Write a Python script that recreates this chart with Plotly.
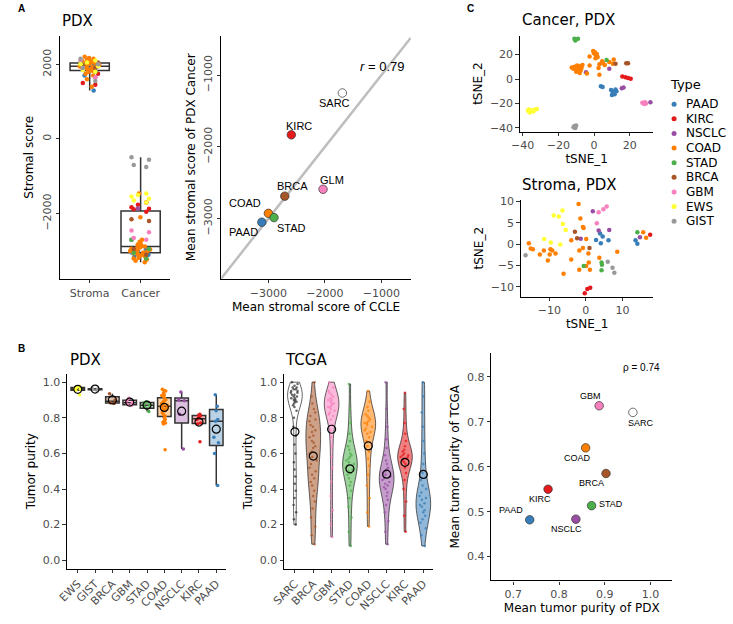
import numpy as np
import plotly.graph_objects as go

W, H = 733, 624

# ---------------- shared categories / palette ----------------
types = ["PAAD", "KIRC", "NSCLC", "COAD", "STAD", "BRCA", "GBM", "EWS", "GIST"]
type_colors = ["#377EB8", "#E41A1C", "#984EA3", "#FF7F00", "#4DAF4A",
               "#A65628", "#F781BF", "#FFFF33", "#999999"]
COL = dict(zip(types, type_colors))
COL["SARC"] = "#FFFFFF"
COL["GLM"] = "#F781BF"

# ---------------- Panel A left: stromal score (PDX) ----------------
stroma_groups = ["Stroma", "Cancer"]
stroma_score_stroma = {
    "GIST": [1550, 2150, 2000, 1900],
    "EWS": [2100, 2000, 1950, 1850, 1800, 2050],
    "KIRC": [1450, 1500, 1950, 2000, 1750],
    "BRCA": [1950, 2050, 1900],
    "GBM": [2100, 1650, 2000, 1900],
    "COAD": [1400, 1600, 1750, 1800, 1850, 1880, 1900, 1920, 1940, 1950, 1960, 1980,
             2000, 2020, 2050, 2080, 2100, 2150, 2200, 1870, 1990, 2060, 2120, 1700,
             1830, 2010, 1930, 2170, 2040],
    "STAD": [1950, 2000, 1800, 2050],
    "PAAD": [1300, 1700, 1800, 1850, 1900, 2000, 2050],
    "NSCLC": [1650, 2100, 2000, 1900, 1950],
}
stroma_score_cancer = {
    "GIST": [-490, -560, -700, -750],
    "EWS": [-1460, -1500, -1540, -1600, -1650, -1700],
    "KIRC": [-1700, -1760, -1830, -1880, -1950, -1870],
    "BRCA": [-2150, -2200, -2950, -3100],
    "GBM": [-2450, -2500, -2650, -2700],
    "COAD": [-1460, -2100, -2700, -2750, -2800, -2830, -2860, -2880, -2900, -2920,
             -2940, -2960, -2980, -3000, -3020, -3040, -3060, -3080, -3100, -3120,
             -3150, -3180, -3200, -3230, -3260, -3300, -2850, -2950, -3010],
    "STAD": [-2700, -2950, -3050, -3200],
    "PAAD": [-2850, -2950, -3000, -3050, -3100, -3150, -3200],
    "NSCLC": [-1860, -2950, -3000, -3050, -2700],
}

# ---------------- Panel A right: CCLE vs PDX ----------------
ccle_types = ["SARC", "KIRC", "GLM", "BRCA", "COAD", "STAD", "PAAD"]
ccle_mean_stromal = [-1690, -2594, -2032, -2710, -3000, -2901, -3116]
pdx_cancer_mean_stromal = [-1248, -1832, -2591, -2687, -2927, -2986, -3051]
abline_slope, abline_intercept = 1.0, 0.0
r_text = "<i>r</i> = 0.79"

# ---------------- Panel C: tSNE ----------------
tsne_cancer_x = {
    "PAAD": [3.8, 4.8, 9.5, 10.5, 11.5, 12.5, 10, 12, 11],
    "KIRC": [15.8, 17.5, 19, 20.5],
    "NSCLC": [31.5, -4.5, 8.5, 15.5, 16.5],
    "COAD": [-12.5, -11, -10, -9, -8, -9.5, -7.5, -7, -11.5, -8, -10, -6.5,
             -0.5, 0, 0.5, 1, 1.5, 2, 0.8, -2.5,
             -2.5, -4, 3, 3, 5, 6, 8.5, 10.5, 11, 2.5, 4.5],
    "STAD": [-11, -10, -9, -10.5, 7],
    "BRCA": [12, 18, 19],
    "GBM": [27, 28, 28.5, 29],
    "EWS": [-37, -36, -35, -34, -33, -32, -36.5],
    "GIST": [-11.5, -11, -10, -10.5],
}
tsne_cancer_y = {
    "PAAD": [-6, -6.5, -9, -11, -12.5, -10, -13, -8.5, -10.5],
    "KIRC": [2, 1.5, 0.8, 0.2],
    "NSCLC": [-19, 5.5, 8.5, -7.5, -7],
    "COAD": [9.5, 10, 9, 8, 10.5, 11, 7, 9, 8.5, 5, 6, 11.5,
             23, 21, 22, 19.5, 20.5, 18, 17, 18.5,
             11, 4.5, 3.5, 12, 13, 11.5, 14, 12.5, 16, 9, 14.5],
    "STAD": [33, 32.5, 33, 31.5, 15.5],
    "BRCA": [12.5, 13, 13],
    "GBM": [-19.5, -20.5, -19, -20],
    "EWS": [-26, -27.5, -25.5, -26.5, -25, -24.5, -25],
    "GIST": [-39.5, -38.5, -38, -40],
}
tsne_stroma_x = {
    "PAAD": [2.8, 3.9, 4.6, 4.1, 6.2, 13.6, 14.1],
    "KIRC": [-0.3, 0.4, 1.2, 17.6],
    "NSCLC": [1.9, 3.5, 6.4, -1.4, 14.8],
    "COAD": [-15.6, -15.1, -14.5, -11.5, -9.7, -9.2, -12.6, -9.9, -8.3, -10.4, -6.1,
             -4.0, -4.0, -1.8, -1.8, -1.5, -0.8, -0.6, -2.0, 0.1, -0.8, 0.7, 0.8,
             0.1, 1.1, 3.7, 8.6, 15.7, 16.5],
    "STAD": [-0.6, 4.3, 4.4, 4.3, 14.1],
    "BRCA": [-3.0, -2.4, 1.0],
    "GBM": [3.5, 4.8, 5.7, 3.0],
    "EWS": [-8.8, -6.4, -7.4, -6.3, -5.5, -11.4, -9.6, -7.0],
    "GIST": [-16.5, 6.0, 7.3, 7.8],
}
tsne_stroma_y = {
    "PAAD": [1.0, 2.5, 1.8, 0.2, 0.9, 0.9, 0.1],
    "KIRC": [-11.5, -10.5, -10.2, 2.2],
    "NSCLC": [7.7, 3.2, 3.3, 1.3, 1.6],
    "COAD": [0.2, -1.0, -1.2, -1.5, -1.2, -1.5, -2.4, -2.4, -2.2, -3.8, -6.9,
             0.9, -3.6, -1.5, -6.0, 6.0, 4.0, 3.8, 9.4, 1.2, -0.9, -2.2, -4.3,
             -5.1, -6.0, -3.2, -1.8, 2.8, 1.5],
    "STAD": [-5.1, -4.3, -4.8, -6.1, 2.8],
    "BRCA": [2.9, 1.4, -0.9],
    "GBM": [7.5, 8.2, 8.8, 4.9],
    "EWS": [6.7, 7.9, 6.5, 4.7, 3.3, 1.2, 0.4, -0.1],
    "GIST": [-2.6, -4.1, -5.5, -6.7],
}

# ---------------- Panel B left: PDX tumor purity ----------------
pdx_order = ["EWS", "GIST", "BRCA", "GBM", "STAD", "COAD", "NSCLC", "KIRC", "PAAD"]
pdx_purity = {
    "EWS": [0.97, 0.975, 0.965, 0.96, 0.955, 0.93],
    "GIST": [0.955, 0.96, 0.965, 0.962],
    "BRCA": [0.935, 0.90, 0.885, 0.88],
    "GBM": [0.91, 0.895, 0.885, 0.875, 0.87],
    "STAD": [0.89, 0.885, 0.87, 0.86, 0.835],
    "COAD": [0.96, 0.955, 0.95, 0.94, 0.93, 0.925, 0.92, 0.91, 0.90, 0.895, 0.89,
             0.88, 0.875, 0.87, 0.865, 0.86, 0.855, 0.85, 0.84, 0.83, 0.82, 0.81,
             0.80, 0.79, 0.78, 0.775, 0.77, 0.765, 0.62],
    "NSCLC": [0.945, 0.90, 0.895, 0.82, 0.625],
    "KIRC": [0.82, 0.815, 0.81, 0.80, 0.79, 0.77, 0.765, 0.665],
    "PAAD": [0.93, 0.865, 0.84, 0.79, 0.78, 0.69, 0.66, 0.60, 0.42],
}
pdx_purity_mean = [0.960, 0.961, 0.900, 0.888, 0.871, 0.858, 0.837, 0.776, 0.736]

# ---------------- Panel B middle: TCGA tumor purity ----------------
tcga_order = ["SARC", "BRCA", "GBM", "STAD", "COAD", "NSCLC", "KIRC", "PAAD"]
tcga_purity = {
    "SARC": [0.20, 0.23, 0.27, 0.31, 0.35, 0.39, 0.43, 0.47, 0.51, 0.55, 0.60, 0.65,
             0.70, 0.75, 0.80, 0.84, 0.86, 0.87, 0.88, 0.89, 0.89, 0.90, 0.90, 0.91,
             0.91, 0.92, 0.92, 0.93, 0.93, 0.94, 0.94, 0.95, 0.95, 0.96, 0.96, 0.97,
             0.97, 0.98, 0.99, 1.0],
    "BRCA": [0.09, 0.14, 0.19, 0.24, 0.29, 0.33, 0.36, 0.39, 0.42, 0.44, 0.46, 0.48,
             0.50, 0.52, 0.54, 0.56, 0.58, 0.60, 0.61, 0.63, 0.64, 0.66, 0.67, 0.69,
             0.70, 0.72, 0.73, 0.75, 0.76, 0.78, 0.79, 0.81, 0.83, 0.85, 0.88, 0.92,
             1.0],
    "GBM": [0.13, 0.20, 0.28, 0.36, 0.44, 0.52, 0.58, 0.64, 0.69, 0.73, 0.76, 0.79,
            0.81, 0.82, 0.83, 0.84, 0.85, 0.86, 0.86, 0.87, 0.88, 0.88, 0.89, 0.90,
            0.90, 0.91, 0.92, 0.93, 0.94, 0.95, 0.97, 1.0],
    "STAD": [0.08, 0.16, 0.24, 0.30, 0.35, 0.39, 0.42, 0.44, 0.46, 0.48, 0.49, 0.50,
             0.51, 0.52, 0.53, 0.54, 0.55, 0.56, 0.57, 0.58, 0.59, 0.60, 0.62, 0.64,
             0.67, 0.71, 0.77, 0.85, 0.99],
    "COAD": [0.19, 0.27, 0.35, 0.42, 0.48, 0.53, 0.57, 0.61, 0.64, 0.67, 0.69, 0.71,
             0.72, 0.73, 0.74, 0.75, 0.76, 0.77, 0.77, 0.78, 0.79, 0.80, 0.81, 0.82,
             0.84, 0.86, 0.89, 0.95],
    "NSCLC": [0.09, 0.16, 0.22, 0.27, 0.31, 0.34, 0.36, 0.38, 0.40, 0.41, 0.42, 0.43,
              0.44, 0.45, 0.46, 0.47, 0.48, 0.49, 0.50, 0.51, 0.52, 0.54, 0.56, 0.59,
              0.63, 0.68, 0.75, 0.85, 1.0],
    "KIRC": [0.16, 0.25, 0.33, 0.40, 0.45, 0.49, 0.52, 0.54, 0.55, 0.56, 0.57, 0.57,
             0.58, 0.58, 0.59, 0.59, 0.60, 0.61, 0.62, 0.64, 0.67, 0.71, 0.77, 0.85,
             0.94],
    "PAAD": [0.08, 0.14, 0.18, 0.21, 0.23, 0.25, 0.27, 0.28, 0.30, 0.31, 0.32, 0.34,
             0.35, 0.36, 0.38, 0.40, 0.42, 0.45, 0.49, 0.54, 0.60, 0.67, 0.75, 0.83,
             0.92, 1.0],
}

# ---------------- Panel B right: PDX vs TCGA mean purity ----------------
cmp_types = ["GBM", "SARC", "COAD", "BRCA", "KIRC", "STAD", "NSCLC", "PAAD"]
cmp_pdx_mean = [0.8876, 0.9613, 0.858, 0.9026, 0.7759, 0.871, 0.8367, 0.7358]
cmp_tcga_mean = [0.7357, 0.721, 0.642, 0.585, 0.550, 0.5134, 0.4834, 0.4819]
rho_text = "ρ = 0.74"
tcga_purity_mean = [dict(zip(cmp_types, cmp_tcga_mean))[t] for t in tcga_order]


# ======================= figure =======================
def px_x(a, b):
    return [a / W, b / W]


def px_y(top, bottom):
    return [1 - bottom / H, 1 - top / H]


def rgba(hex_c, a):
    h = hex_c.lstrip("#")
    return "rgba(%d,%d,%d,%.2f)" % (int(h[0:2], 16), int(h[2:4], 16), int(h[4:6], 16), a)


TICKF = dict(family="DejaVu Sans", size=11, color="#4D4D4D")
TITLEF = dict(family="DejaVu Sans", size=12, color="black")


def axis(domain, anchor, **kw):
    d = dict(domain=domain, anchor=anchor, showline=True, linecolor="black",
             linewidth=1.1, ticks="outside", ticklen=3.5, tickwidth=1.0,
             tickcolor="#333333", showgrid=False, zeroline=False, tickfont=TICKF,
             title_font=TITLEF)
    d.update(kw)
    return d


fig = go.Figure()

# ---- A left ----
all_stroma = np.concatenate([stroma_score_stroma[t] for t in types])
all_cancer = np.concatenate([stroma_score_cancer[t] for t in types])
for grp, vals in (("Stroma", all_stroma), ("Cancer", all_cancer)):
    fig.add_trace(go.Box(x=[grp] * len(vals), y=vals, boxpoints=False,
                         fillcolor="rgba(0,0,0,0)", line=dict(color="#333333", width=1.5),
                         width=0.77, whiskerwidth=0, xaxis="x", yaxis="y",
                         showlegend=False, hoverinfo="skip"))
for grp, src in (("Stroma", stroma_score_stroma), ("Cancer", stroma_score_cancer)):
    for t in types:
        v = src[t]
        fig.add_trace(go.Box(x=[grp] * len(v), y=v, boxpoints="all", jitter=0.55,
                             pointpos=0, fillcolor="rgba(0,0,0,0)",
                             line=dict(width=0, color="rgba(0,0,0,0)"), width=0.77,
                             marker=dict(color=COL[t], size=4.5),
                             xaxis="x", yaxis="y", showlegend=False))

# ---- A right ----
xr2 = [-3835, -478]
fig.add_trace(go.Scatter(x=xr2, y=[abline_slope * v + abline_intercept for v in xr2],
                         mode="lines", line=dict(color="#BEBEBE", width=2.5),
                         xaxis="x2", yaxis="y2", showlegend=False, hoverinfo="skip"))
fig.add_trace(go.Scatter(x=ccle_mean_stromal, y=pdx_cancer_mean_stromal, mode="markers",
                         marker=dict(size=8.5, color=[COL[t] for t in ccle_types],
                                     line=dict(color="#333333", width=0.7)),
                         xaxis="x2", yaxis="y2", showlegend=False))

# ---- C tSNE ----
for t in types:
    fig.add_trace(go.Scatter(x=tsne_cancer_x[t], y=tsne_cancer_y[t], mode="markers",
                             marker=dict(color=COL[t], size=4.5), xaxis="x3", yaxis="y3",
                             showlegend=False))
    fig.add_trace(go.Scatter(x=tsne_stroma_x[t], y=tsne_stroma_y[t], mode="markers",
                             marker=dict(color=COL[t], size=4.5), xaxis="x4", yaxis="y4",
                             showlegend=False))

# ---- B left ----
for t in pdx_order:
    v = pdx_purity[t]
    fig.add_trace(go.Box(x=[t] * len(v), y=v, boxpoints="all", jitter=0.5, pointpos=0,
                         fillcolor=rgba(COL[t], 0.35), line=dict(color="#333333", width=1.5),
                         marker=dict(color=COL[t], size=3.5), width=0.78, whiskerwidth=0,
                         xaxis="x5", yaxis="y5", showlegend=False))
fig.add_trace(go.Scatter(x=pdx_order, y=pdx_purity_mean, mode="markers",
                         marker=dict(symbol="circle-open", size=8, color="black",
                                     line=dict(width=1.2)),
                         xaxis="x5", yaxis="y5", showlegend=False))

# ---- B middle ----
for t in tcga_order:
    v = tcga_purity[t]
    if t == "SARC":
        fc, mc = "rgba(255,255,255,1)", "#333333"
    else:
        fc, mc = rgba(COL[t], 0.55), COL[t]
    fig.add_trace(go.Violin(x=[t] * len(v), y=v, points="all", jitter=0.6, pointpos=0,
                            fillcolor=fc, line=dict(color="#222222", width=0.7),
                            marker=dict(color=mc, size=2.5, opacity=0.75),
                            scalemode="width", width=0.8, spanmode="hard", bandwidth=0.06,
                            xaxis="x6", yaxis="y6", showlegend=False))
fig.add_trace(go.Scatter(x=tcga_order, y=tcga_purity_mean, mode="markers",
                         marker=dict(symbol="circle-open", size=8, color="black",
                                     line=dict(width=1.2)),
                         xaxis="x6", yaxis="y6", showlegend=False))

# ---- B right ----
fig.add_trace(go.Scatter(x=cmp_pdx_mean, y=cmp_tcga_mean, mode="markers",
                         marker=dict(size=8.5, color=[COL[t] for t in cmp_types],
                                     line=dict(color="#333333", width=0.7)),
                         xaxis="x7", yaxis="y7", showlegend=False))

# ---- manual legend ----
fig.add_trace(go.Scatter(x=np.zeros(len(types)), y=types, mode="markers",
                         marker=dict(color=type_colors, size=5),
                         xaxis="x8", yaxis="y8", showlegend=False, hoverinfo="skip"))

layout = dict(
    width=W, height=H, margin=dict(l=0, r=0, t=0, b=0),
    paper_bgcolor="white", plot_bgcolor="white", boxmode="overlay", violinmode="overlay",
    font=dict(family="DejaVu Sans"),
    xaxis=axis(px_x(48, 160), "y", type="category", categoryorder="array",
               categoryarray=stroma_groups, range=[-0.58, 1.58]),
    yaxis=axis(px_y(32, 278), "x", range=[-3748, 2768], tickvals=[-2000, 0, 2000],
               tickangle=-90, title=dict(text="Stromal score", standoff=4)),
    xaxis2=axis(px_x(212, 405), "y2", range=[-3835, -478], tickvals=[-3000, -2000, -1000],
                title=dict(text="Mean stromal score of CCLE", standoff=2)),
    yaxis2=axis(px_y(32, 278), "x2", range=[-3841, -448], tickvals=[-3000, -2000, -1000],
                tickangle=-90, title=dict(text="Mean stromal score of PDX Cancer", standoff=4)),
    xaxis3=axis(px_x(516, 652), "y3", range=[-41.5, 33.2], tickvals=[-40, -20, 0, 20],
                title=dict(text="tSNE_1", standoff=2)),
    yaxis3=axis(px_y(32, 129), "x3", range=[-43, 35.5], tickvals=[-40, -20, 0, 20],
                title=dict(text="tSNE_2", standoff=4)),
    xaxis4=axis(px_x(517, 652), "y4", range=[-17.8, 18.5], tickvals=[-10, 0, 10],
                title=dict(text="tSNE_1", standoff=2)),
    yaxis4=axis(px_y(198, 296), "x4", range=[-12.3, 10.4], tickvals=[-10, -5, 0, 5, 10],
                title=dict(text="tSNE_2", standoff=4)),
    xaxis5=axis(px_x(55, 217), "y5", type="category", categoryorder="array",
                categoryarray=pdx_order, range=[-0.62, 8.57], tickangle=-45),
    yaxis5=axis(px_y(374, 571), "x5", range=[-0.047, 1.047],
                tickvals=[0, 0.2, 0.4, 0.6, 0.8, 1.0], ticktext=["0.0", "0.2", "0.4", "0.6", "0.8", "1.0"],
                title=dict(text="Tumor purity", standoff=4)),
    xaxis6=axis(px_x(276, 428), "y6", type="category", categoryorder="array",
                categoryarray=tcga_order, range=[-0.59, 7.55], tickangle=-45),
    yaxis6=axis(px_y(374, 571), "x6", range=[-0.047, 1.047],
                tickvals=[0, 0.2, 0.4, 0.6, 0.8, 1.0], ticktext=["0.0", "0.2", "0.4", "0.6", "0.8", "1.0"],
                title=dict(text="Tumor purity", standoff=4)),
    xaxis7=axis(px_x(487, 671), "y7", range=[0.652, 1.047], tickvals=[0.7, 0.8, 0.9, 1.0],
                ticktext=["0.7", "0.8", "0.9", "1.0"],
                title=dict(text="Mean tumor purity of PDX", standoff=2)),
    yaxis7=axis(px_y(353, 583), "x7", range=[0.347, 0.853], tickvals=[0.4, 0.5, 0.6, 0.7, 0.8],
                title=dict(text="Mean tumor purity of TCGA", standoff=4)),
    xaxis8=dict(domain=px_x(668, 678), anchor="y8", range=[-1, 1], visible=False),
    yaxis8=dict(domain=px_y(91.3, 229.7), anchor="x8", type="category",
                categoryorder="array", categoryarray=types, autorange="reversed",
                visible=False),
)
fig.update_layout(**layout)

ann = []
LBL = dict(family="Liberation Sans", size=11, color="black")
# scatter A labels (offsets in px)
offA = {"SARC": (-8, -10), "KIRC": (8, 9), "GLM": (9, 9), "BRCA": (8, 10),
        "COAD": (-23, 10), "STAD": (18, -10), "PAAD": (-18, -10)}
for t, xv, yv in zip(ccle_types, ccle_mean_stromal, pdx_cancer_mean_stromal):
    ann.append(dict(x=xv, y=yv, xref="x2", yref="y2", text=t, showarrow=False,
                    xshift=offA[t][0], yshift=offA[t][1], font=LBL))
ann.append(dict(x=1, y=1, xref="x2 domain", yref="y2 domain", text=r_text, showarrow=False,
                xanchor="right", yanchor="middle", xshift=-5, yshift=-31,
                font=dict(family="Liberation Sans", size=13, color="black")))
# scatter B labels
offB = {"GBM": (-9, 10), "SARC": (8, -11), "COAD": (-8, -10), "BRCA": (-15, -10),
        "KIRC": (-8, -10), "STAD": (19, 2), "NSCLC": (-9, -10), "PAAD": (-19, 10)}
LBLB = dict(family="Liberation Sans", size=9, color="black")
for t, xv, yv in zip(cmp_types, cmp_pdx_mean, cmp_tcga_mean):
    ann.append(dict(x=xv, y=yv, xref="x7", yref="y7", text=t, showarrow=False,
                    xshift=offB[t][0], yshift=offB[t][1], font=LBLB))
ann.append(dict(x=1, y=1, xref="x7 domain", yref="y7 domain", text=rho_text, showarrow=False,
                xanchor="right", yanchor="middle", xshift=-10, yshift=-14,
                font=dict(family="Liberation Sans", size=10, color="black")))
# legend text
for t in types:
    ann.append(dict(x=0, y=t, xref="x8", yref="y8", text=t, showarrow=False,
                    xanchor="left", xshift=10, font=dict(family="DejaVu Sans", size=12, color="black")))
ann.append(dict(x=667 / W, y=1 - 81 / H, xref="paper", yref="paper", text="Type",
                showarrow=False, xanchor="left", yanchor="middle",
                font=dict(family="DejaVu Sans", size=13, color="black")))
# panel titles
TT = dict(family="DejaVu Sans", size=15, color="black")
for txt, x0, y0 in (("PDX", 48, 17), ("Cancer, PDX", 516, 16), ("Stroma, PDX", 516, 183),
                    ("PDX", 56, 360), ("TCGA", 275, 360)):
    ann.append(dict(x=x0 / W, y=1 - y0 / H, xref="paper", yref="paper", text=txt,
                    showarrow=False, xanchor="left", yanchor="middle", font=TT))
for txt, x0, y0 in (("A", 3, 5), ("B", 3, 348), ("C", 460, 5)):
    ann.append(dict(x=x0 / W, y=1 - y0 / H, xref="paper", yref="paper", text="<b>%s</b>" % txt,
                    showarrow=False, xanchor="left", yanchor="middle",
                    font=dict(family="Liberation Sans", size=10, color="black")))
fig.update_layout(annotations=ann)

fig.write_html("out.html", config={"displayModeBar": False},
               post_script="document.body.style.margin='0';"
                           "document.body.style.overflow='hidden';")
